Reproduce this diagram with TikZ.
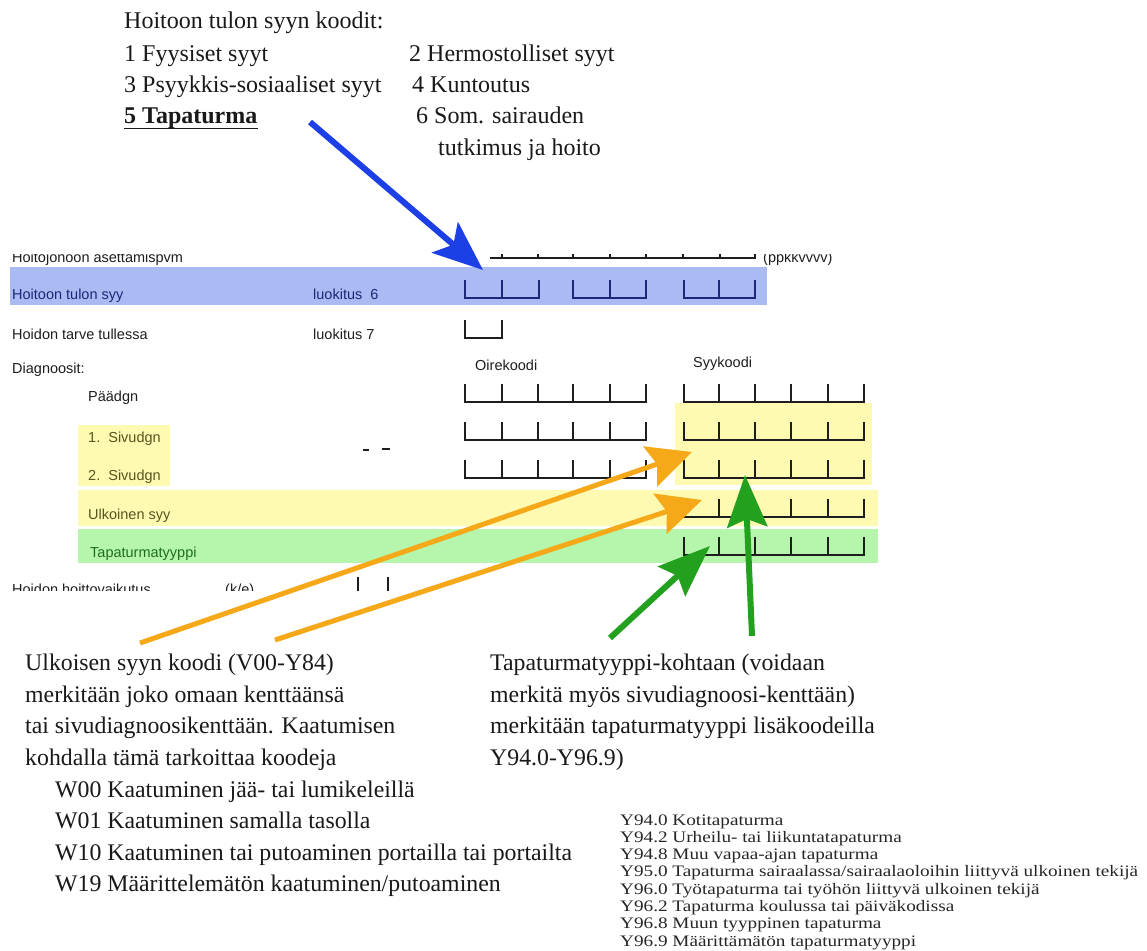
\documentclass[tikz,border=0pt]{standalone}
\usepackage{fontspec}
\setmainfont{Liberation Serif}
\newfontfamily\formfont{Liberation Sans}
\newfontfamily\listfont[FakeStretch=1.2]{Liberation Serif}
\usetikzlibrary{arrows.meta}
\definecolor{bandblue}{RGB}{170,186,242}
\definecolor{bandyellow}{RGB}{255,250,178}
\definecolor{bandgreen}{RGB}{182,246,172}
\definecolor{arrblue}{RGB}{28,64,230}
\definecolor{arrorange}{RGB}{245,168,24}
\definecolor{arrgreen}{RGB}{34,160,30}
\definecolor{formink}{RGB}{30,30,30}
\definecolor{navyink}{RGB}{28,40,120}
\definecolor{oliveink}{RGB}{85,85,30}
\definecolor{greenink}{RGB}{30,110,30}
\newcommand\cgroup[5]{%
  \draw[boxline,#1] (#3,#2-18) |- (#4,#2) -- (#4,#2-18);
  \foreach \xx in {#5}{\draw[boxline,#1] (\xx,#2) -- (\xx,#2-18);}}
\begin{document}
\begin{tikzpicture}[x=1pt,y=-1pt,
  toptext/.style={anchor=base west,inner sep=0pt,font=\fontsize{24}{24}\selectfont,text=black!90},
  bigtext/.style={anchor=base west,inner sep=0pt,font=\fontsize{23.8}{23.8}\selectfont,text=black!90},
  listtext/.style={anchor=base west,inner sep=0pt,font=\listfont\fontsize{16}{16}\selectfont,text=black!85},
  formtext/.style={anchor=base west,inner sep=0pt,font=\formfont\fontsize{14.5}{14.5}\selectfont,text=formink},
  boxline/.style={draw=formink,line width=1.3pt},
  bluearrow/.style={draw=arrblue,line width=6pt,-{Stealth[length=50pt,width=40pt,inset=11pt]}},
  orangearrow/.style={draw=arrorange,line width=5pt,-{Stealth[length=44pt,width=42pt,inset=7pt]}},
  greenarrow/.style={draw=arrgreen,line width=6pt,-{Stealth[length=52pt,width=40pt,inset=8pt]}}]
\fill[white] (0,0) rectangle (1147,950);
\useasboundingbox (0,0) rectangle (1147,950);

% ---- top legend
\node[toptext] (t1) at (124,29) {Hoitoon tulon syyn koodit:};
\node[toptext] (t2) at (124,61) {1 Fyysiset syyt};
\node[toptext] (t3) at (409,61) {2 Hermostolliset syyt};
\node[toptext] (t4) at (124,92) {3 Psyykkis-sosiaaliset syyt};
\node[toptext] (t5) at (412,92) {4 Kuntoutus};
\node[toptext] (t6) at (124,123) {\bfseries 5 Tapaturma};
\draw[line width=1.6pt,black!90] ([yshift=-5.5pt]t6.base west) -- ([yshift=-5.5pt]t6.base east);
\node[toptext] (t7) at (416,123) {6 Som. sairauden};
\node[toptext] (t8) at (438,155) {tutkimus ja hoito};

% ---- form (clipped scan)
\begin{scope}
\clip (0,254) rectangle (1147,590);
\fill[bandblue] (10,267) rectangle (767,305);
\fill[bandyellow] (675,403) rectangle (872,485);
\fill[bandyellow] (78,425) rectangle (170,486);
\fill[bandyellow] (78,490) rectangle (878,526);
\fill[bandgreen] (78,529) rectangle (878,563);

\node[formtext] (f0) at (12,262) {Hoitojonoon asettamispvm};
\node[formtext] (fp) at (763,262) {(ppkkvvvv)};
\draw[boxline] (490,258) -- (755,258) -- (755,252);
\foreach \xx in {502,538,573,610,646,683,720}{\draw[boxline] (\xx,258) -- (\xx,253);}

\node[formtext,text=navyink] (f1) at (12,299) {Hoitoon tulon syy};
\node[formtext,text=navyink] (f1b) at (313,299) {luokitus\ \ 6};
\cgroup{draw=navyink}{298}{465}{539}{502}
\draw[boxline,draw=navyink,line width=2.4pt] (465,280) |- (502,298) -- (502,280);
\cgroup{draw=navyink}{298}{573}{646}{610}
\cgroup{draw=navyink}{298}{684}{755}{719}

\node[formtext] (f2) at (12,339) {Hoidon tarve tullessa};
\node[formtext] (f2b) at (313,339) {luokitus 7};
\cgroup{}{338}{465}{502}{}

\node[formtext] (f3) at (12,373) {Diagnoosit:};
\node[formtext] (fo) at (475,370) {Oirekoodi};
\node[formtext] (fs) at (693,367) {Syykoodi};
\node[formtext] (f4) at (88,401) {Päädgn};
\node[formtext,text=oliveink] (f5) at (88,442) {1.\ \ Sivudgn};
\node[formtext,text=oliveink] (f6) at (88,480) {2.\ \ Sivudgn};
\node[formtext,text=oliveink] (f7) at (88,519) {Ulkoinen syy};
\node[formtext,text=greenink] (f8) at (90,557) {Tapaturmatyyppi};

\cgroup{line width=2.4pt}{402}{465}{646}{502,538,573,610}
\cgroup{}{440}{465}{646}{502,538,573,610}
\cgroup{}{478}{465}{646}{502,538,573,610}
\cgroup{}{402}{684}{864}{719,755,791,828}
\cgroup{}{440}{684}{864}{719,755,791,828}
\cgroup{}{478}{684}{864}{719,755,791,828}
\cgroup{}{517}{684}{864}{719,755,791,828}
\cgroup{}{555}{684}{864}{719,755,791,828}

\draw[formink,line width=1.5pt] (363,450) -- (369,450);
\draw[formink,line width=2pt] (382,449) -- (390,449);

\node[formtext] (f9) at (12,594) {Hoidon hoittovaikutus};
\node[formtext] (f10) at (225,594) {(k/e)};
\draw[formink,line width=2.6pt] (358,577) -- (358,591);
\draw[formink,line width=2.6pt] (388,577) -- (388,591);
\end{scope}

% ---- bottom left text
\node[bigtext] (b1) at (25,670) {Ulkoisen syyn koodi (V00-Y84)};
\node[bigtext] (b2) at (25,702) {merkitään joko omaan kenttäänsä};
\node[bigtext] (b3) at (25,733) {tai sivudiagnoosikenttään. Kaatumisen};
\node[bigtext] (b4) at (25,765) {kohdalla tämä tarkoittaa koodeja};
\node[bigtext] (b5) at (55,797) {W00 Kaatuminen jää- tai lumikeleillä};
\node[bigtext] (b6) at (55,828) {W01 Kaatuminen samalla tasolla};
\node[bigtext] (b7) at (55,860) {W10 Kaatuminen tai putoaminen portailla tai portailta};
\node[bigtext] (b8) at (55,891) {W19 Määrittelemätön kaatuminen/putoaminen};

% ---- bottom middle text
\node[bigtext] (m1) at (490,670) {Tapaturmatyyppi-kohtaan (voidaan};
\node[bigtext] (m2) at (490,702) {merkitä myös sivudiagnoosi-kenttään)};
\node[bigtext] (m3) at (490,733) {merkitään tapaturmatyyppi lisäkoodeilla};
\node[bigtext] (m4) at (490,765) {Y94.0-Y96.9)};

% ---- bottom right list
\node[listtext] (y1) at (620,825) {Y94.0 Kotitapaturma};
\node[listtext] (y2) at (620,842.3) {Y94.2 Urheilu- tai liikuntatapaturma};
\node[listtext] (y3) at (620,859.6) {Y94.8 Muu vapaa-ajan tapaturma};
\node[listtext] (y4) at (620,876.9) {Y95.0 Tapaturma sairaalassa/sairaalaoloihin liittyvä ulkoinen tekijä};
\node[listtext] (y5) at (620,894.2) {Y96.0 Työtapaturma tai työhön liittyvä ulkoinen tekijä};
\node[listtext] (y6) at (620,911.5) {Y96.2 Tapaturma koulussa tai päiväkodissa};
\node[listtext] (y7) at (620,928.8) {Y96.8 Muun tyyppinen tapaturma};
\node[listtext] (y8) at (620,946.1) {Y96.9 Määrittämätön tapaturmatyyppi};

% ---- arrows
\coordinate (bs) at (310,122);
\coordinate (be) at (483,270);
\draw[bluearrow] (bs) -- (be);
\coordinate (os1) at (140,643);
\coordinate (oe1) at (692,452);
\draw[orangearrow] (os1) -- (oe1);
\coordinate (os2) at (275,640);
\coordinate (oe2) at (702,500);
\draw[orangearrow] (os2) -- (oe2);
\coordinate (gs1) at (610,638);
\coordinate (ge1) at (710,546);
\draw[greenarrow] (gs1) -- (ge1);
\coordinate (gs2) at (752,636);
\coordinate (ge2) at (745,475);
\draw[greenarrow] (gs2) -- (ge2);
\end{tikzpicture}
\end{document}
